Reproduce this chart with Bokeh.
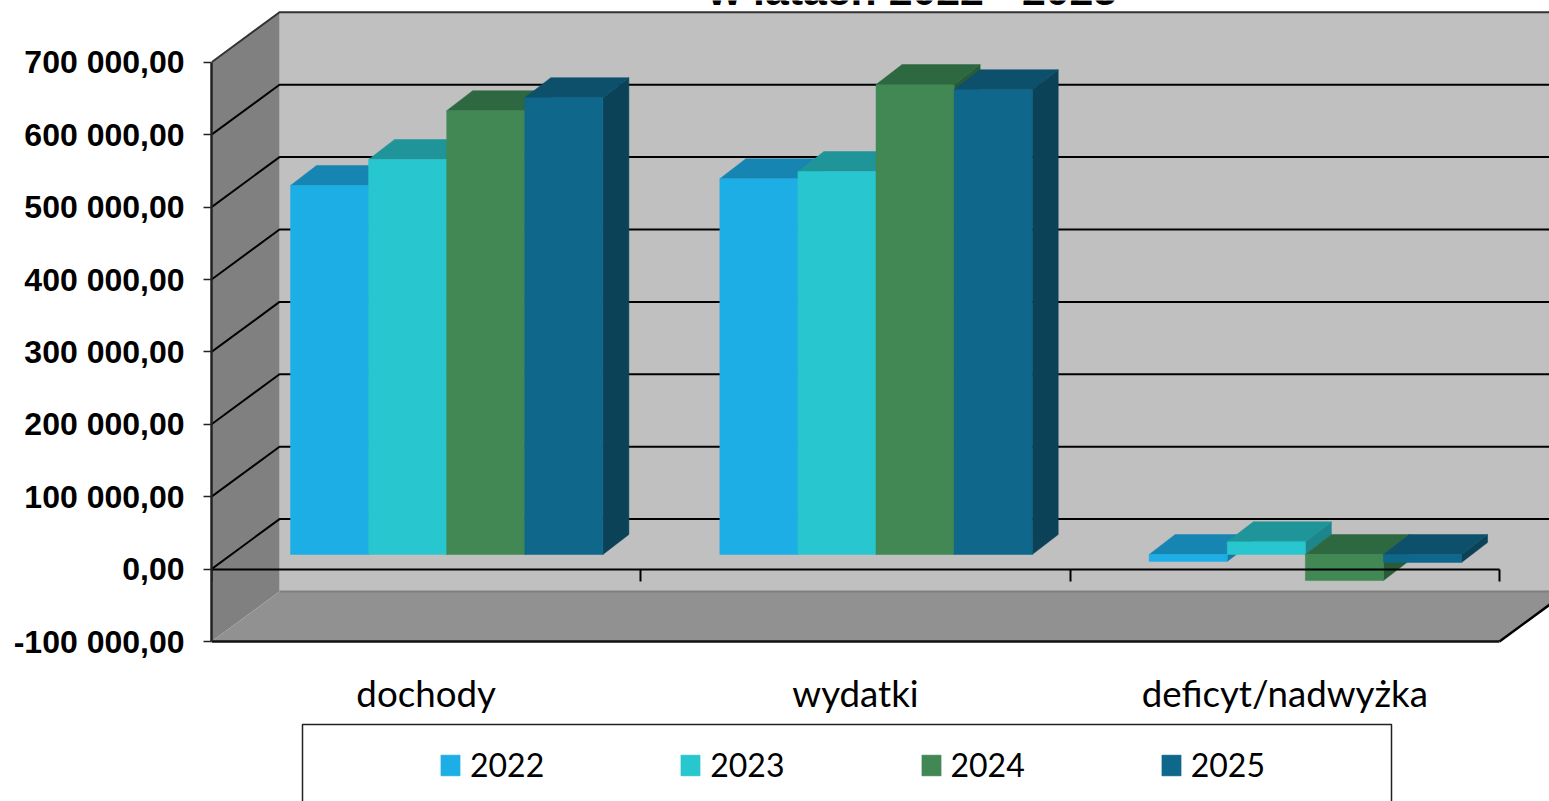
from bokeh.plotting import figure
from bokeh.models import (LinearAxis, FixedTicker, Label, Legend, LegendItem, BoxAnnotation, Range1d)
from bokeh.embed import file_html
from bokeh.resources import INLINE

categories = ["dochody", "wydatki", "deficyt/nadwyżka"]
years = ["2022", "2023", "2024", "2025"]
v2022 = [509700, 519000, -9500]
v2023 = [545600, 529000, 17500]
v2024 = [613000, 649000, -36000]
v2025 = [631000, 642000, -11000]
series = [v2022, v2023, v2024, v2025]
y_ticks = [-100000, 0, 100000, 200000, 300000, 400000, 500000, 600000, 700000]
y_labels = ["-100 000,00", "0,00", "100 000,00", "200 000,00", "300 000,00",
            "400 000,00", "500 000,00", "600 000,00", "700 000,00"]
front_c = ["#1EAEE6", "#28C6CE", "#418855", "#0F678B"]
top_c = ["#1785B2", "#1F9599", "#2E6840", "#0C506C"]
side_c = ["#1478A0", "#1C868C", "#285C39", "#0B4258"]

W, H = 1549, 801
LEFT = 211
CAT_PX = 429.33
VAL_PX = 72.4      # px per 100 000
ZERO_PY = 568.6
fx = 1 / CAT_PX
fy = 100000 / VAL_PX


def py(px):
    return (ZERO_PY - px) * fy


x_end = (W - LEFT) * fx
p = figure(width=W, height=H, output_backend="svg", toolbar_location=None,
           x_range=Range1d(0, x_end), y_range=Range1d(py(H), py(0)),
           min_border_left=LEFT, min_border_right=0, min_border_top=0, min_border_bottom=0,
           x_axis_location=None, y_axis_location=None,
           outline_line_color=None, background_fill_color="white",
           border_fill_color="white")
p.grid.visible = False

DX, DY = 68 * fx, 50 * fy      # wall depth
ymin, ymax = y_ticks[0], y_ticks[-1]
xe = 3.0

# walls and floor
p.patch([DX, xe + DX + 1, xe + DX + 1, DX], [ymin + DY, ymin + DY, ymax + DY, ymax + DY],
        fill_color="#C0C0C0", line_color=None)
p.patch([0, DX, DX, 0], [ymin, ymin + DY, ymax + DY, ymax], fill_color="#808080", line_color=None)
p.patch([0, xe, xe + DX, DX], [ymin, ymin, ymin + DY, ymin + DY], fill_color="#919191", line_color=None)
p.line([DX, xe + DX], [ymin + DY] * 2, line_color="#808080", line_width=2)

# gridlines
grid = y_ticks[1:-1]
p.multi_line([[0, DX, xe + DX + 1] for _ in grid], [[t, t + DY, t + DY] for t in grid],
             line_color="#000000", line_width=2)
p.line([0, DX, xe + DX + 1], [ymax, ymax + DY, ymax + DY], line_color="#333333", line_width=2)
p.line([xe, xe + DX], [ymin, ymin + DY], line_color="#000000", line_width=2.5)

# bars
BW = 78.1 * fx
GAP = 79 * fx
OFF = 14.6 * fy
BDX, BDY = 26 * fx, 20 * fy
fronts = []
for j, vals in enumerate(series):
    xs_side, ys_side, xs_top, ys_top = [], [], [], []
    l, r, t, b = [], [], [], []
    for i, v in enumerate(vals):
        x0 = i + GAP + j * BW
        x1 = x0 + BW
        lo = OFF + min(v, 0)
        hi = OFF + max(v, 0)
        xs_side.append([x1, x1 + BDX, x1 + BDX, x1])
        ys_side.append([lo, lo + BDY, hi + BDY, hi])
        xs_top.append([x0, x1, x1 + BDX, x0 + BDX])
        ys_top.append([hi, hi, hi + BDY, hi + BDY])
        l.append(x0); r.append(x1); t.append(hi); b.append(lo)
    p.patches(xs_side, ys_side, fill_color=side_c[j], line_color=side_c[j], line_width=0.5)
    p.patches(xs_top, ys_top, fill_color=top_c[j], line_color=top_c[j], line_width=0.5)
    fronts.append(p.quad(left=l, right=r, top=t, bottom=b, fill_color=front_c[j],
                         line_color=front_c[j], line_width=0.5))

# value axis
ya = LinearAxis(ticker=FixedTicker(ticks=y_ticks), bounds=(ymin, ymax))
ya.major_label_overrides = dict(zip(y_ticks, y_labels))
ya.major_label_text_font = "Liberation Sans"
ya.major_label_text_font_style = "bold"
ya.major_label_text_font_size = "32px"
ya.major_label_text_color = "#000000"
ya.major_tick_out = 8
ya.major_tick_in = 0
ya.major_tick_line_width = 1.5
ya.major_tick_line_color = "#222222"
ya.major_label_standoff = 19
ya.minor_tick_line_color = None
ya.axis_line_width = 2.5
ya.axis_line_color = "#222222"
p.add_layout(ya, "left")

# zero line with category ticks
za = LinearAxis(ticker=FixedTicker(ticks=[0, 1, 2, 3]), fixed_location=0, bounds=(0, 3))
za.major_label_text_font_size = "0px"
za.major_label_text_color = None
za.major_tick_out = 12
za.major_tick_in = 0
za.major_tick_line_width = 2
za.major_tick_line_color = "#000000"
za.minor_tick_line_color = None
za.axis_line_width = 2
za.axis_line_color = "#000000"
p.add_layout(za, "below")

# bottom edge with category labels
xa = LinearAxis(ticker=FixedTicker(ticks=[0.5, 1.5, 2.5]), fixed_location=ymin, bounds=(0, 3))
xa.major_label_overrides = dict(zip([0.5, 1.5, 2.5], categories))
xa.major_label_text_font = "Lato"
xa.major_label_text_font_size = "36.7px"
xa.major_label_text_color = "#000000"
xa.major_label_standoff = 23
xa.major_tick_line_color = None
xa.minor_tick_line_color = None
xa.axis_line_width = 2.5
xa.axis_line_color = "#111111"
p.add_layout(xa, "below")

# title, cut by the top of the picture
title = Label(x=912 - LEFT, y=H + 11, x_units="screen", y_units="screen", text="w latach 2022 - 2025",
              text_font="Liberation Sans", text_font_style="bold", text_font_size="42.8px",
              text_align="center", text_baseline="alphabetic", text_color="#000000")
p.add_layout(title)

# legend frame and legend
box = BoxAnnotation(left=302 - LEFT, right=1391 - LEFT, top=77, bottom=-20,
                    left_units="screen", right_units="screen", top_units="screen", bottom_units="screen",
                    fill_color="white", fill_alpha=1, line_color="#222222", line_alpha=1, line_width=1.5,
                    level="overlay")
p.add_layout(box)
legend = Legend(items=[LegendItem(label=y, renderers=[r]) for y, r in zip(years, fronts)],
                orientation="horizontal", location=(227, 17),
                padding=10, margin=0, spacing=134, glyph_width=24, glyph_height=26, label_standoff=8,
                label_text_font="Lato", label_text_font_size="32px", label_text_color="#000000",
                border_line_color=None, background_fill_alpha=0, level="overlay")
p.add_layout(legend)

open("out.html", "w").write(file_html(p, INLINE))
